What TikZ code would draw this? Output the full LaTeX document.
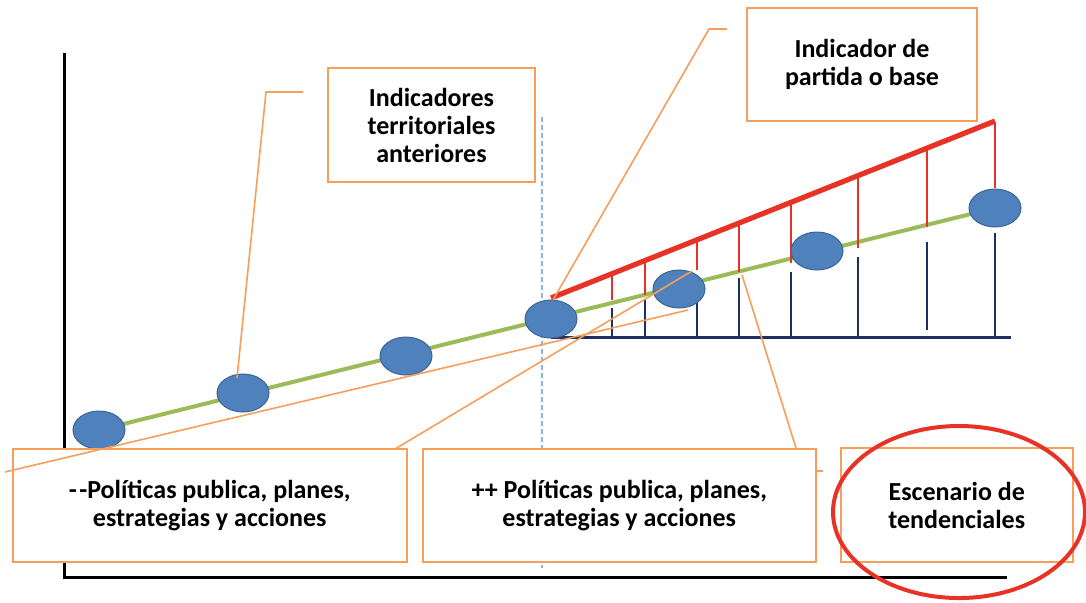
\documentclass[tikz,border=0pt]{standalone}
\usepackage{fontspec}
\setmainfont{Carlito}
\usetikzlibrary{shapes.geometric}
\definecolor{cbox}{RGB}{247,158,90}
\definecolor{cblue}{RGB}{79,129,189}
\definecolor{cblueb}{RGB}{60,100,150}
\definecolor{cgreen}{RGB}{155,187,89}
\definecolor{cred}{RGB}{232,50,38}
\definecolor{cnavy}{RGB}{28,48,100}
\definecolor{cdash}{RGB}{140,180,228}
\tikzset{
  dot/.style={ellipse, fill=cblue, draw=cblueb, line width=0.5pt, minimum width=26pt, minimum height=19pt, inner sep=0pt},
  lbl/.style={rectangle, draw=cbox, line width=1pt, fill=white, align=center,
    font=\fontsize{13}{14}\selectfont\bfseries, inner sep=0pt},
  callout/.style={draw=cbox, line width=0.8pt},
  redtick/.style={draw=cred, line width=1.4pt},
  navytick/.style={draw=cnavy, line width=1.4pt},
}
\begin{document}
\begin{tikzpicture}[x=0.5pt, y=-0.5pt]
\useasboundingbox (0,0) rectangle (1086,602);
% axes
\draw[line width=1.5pt, black] (64,53) -- (64,577) -- (1007,577);
% dashed divider
\draw[cdash, line width=0.7pt, dash pattern=on 2.5pt off 1.5pt] (542,117) -- (542,568);
% ellipse positions
\coordinate (p1) at (99,430);
\coordinate (p7) at (995,208);
\draw[cgreen, line width=2pt] (p1) -- (p7);
% baseline
\draw[cnavy, line width=1.5pt] (551,337) -- (1011,337);
% ticks
\foreach \x/\ra/\rb/\na/\nb in {612/274/300/308/337, 645/261/295/300/337, 697/240/270/302/337, 739/223/272/278/337, 791/202/263/272/337, 858/176/248/257/337, 927/149/227/242/330, 995/122/188/233/337}{
  \draw[redtick] (\x,\ra) -- (\x,\rb);
  \draw[navytick] (\x,\na) -- (\x,\nb);
}
% red trend line
\coordinate (r0) at (551,298);
\coordinate (r1) at (995,121);
\draw[cred, line width=2.6pt] (r0) -- (r1);
% ellipses
\node[dot] (e1) at (99,430) {};
\node[dot] (e2) at (243,393) {};
\node[dot] (e3) at (406,356) {};
\node[dot] (e4) at (551,319) {};
\node[dot] (e5) at (679,289) {};
\node[dot] (e6) at (817,251) {};
\node[dot] (e7) at (995,208) {};
% boxes
\node[lbl, minimum width=103.5pt, minimum height=57pt] (b1) at (431.5,125) {Indicadores\\territoriales\\anteriores};
\node[lbl, minimum width=115.25pt, minimum height=56.5pt] (b2) at (862,64.5) {};
\node[align=center, font=\fontsize{13}{14}\selectfont\bfseries, inner sep=0pt] (t2) at (862,64) {Indicador de\\partida o base};
\node[lbl, minimum width=196.75pt, minimum height=56.5pt] (b3) at (209.75,505.5) {-\kern1.2pt-Políticas publica, planes,\\estrategias y acciones};
\node[lbl, minimum width=196.25pt, minimum height=56.5pt] (b4) at (619.25,505.5) {++ Políticas publica, planes,\\estrategias y acciones};
\node[lbl, minimum width=115.75pt, minimum height=57pt] (b5) at (956.75,505) {Escenario de\\tendenciales};
% callouts
\coordinate (c1a) at (303,92);
\coordinate (c1b) at (266,92);
\coordinate (c1c) at (237,378);
\draw[callout] (c1a) -- (c1b) -- (c1c);
\coordinate (c2a) at (727,29);
\coordinate (c2b) at (709,29);
\coordinate (c2c) at (553,300);
\draw[callout] (c2a) -- (c2b) -- (c2c);
\coordinate (c3a) at (5,472);
\coordinate (c3b) at (688,310);
\draw[callout] (c3a) -- (c3b);
\coordinate (c4a) at (395,449);
\coordinate (c4b) at (692,271);
\draw[callout] (c4a) -- (c4b);
\coordinate (c5a) at (796,448);
\coordinate (c5b) at (742,275);
\draw[callout] (c5a) -- (c5b);
\coordinate (c6a) at (815,471);
\coordinate (c6b) at (823,471);
\draw[callout] (c6a) -- (c6b);
% red circle
\node[ellipse, draw=cred, line width=2pt, minimum width=126pt, minimum height=86pt, inner sep=0pt] (ring) at (959,512) {};
\end{tikzpicture}
\end{document}
